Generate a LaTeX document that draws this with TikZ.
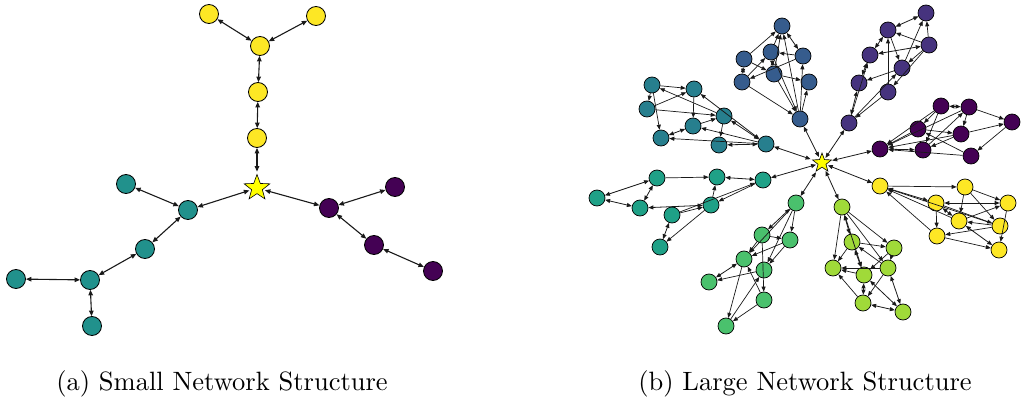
\documentclass[tikz,border=0pt]{standalone}
\usetikzlibrary{arrows.meta,shapes.geometric}
\definecolor{vA}{HTML}{440154}
\definecolor{vB}{HTML}{46337E}
\definecolor{vC}{HTML}{365C8D}
\definecolor{vD}{HTML}{277F8E}
\definecolor{vE}{HTML}{1FA187}
\definecolor{vF}{HTML}{4AC16D}
\definecolor{vG}{HTML}{A0DA39}
\definecolor{vH}{HTML}{FDE725}
\definecolor{vM}{HTML}{21918C}
\definecolor{starY}{HTML}{FFFF00}
\tikzset{
  nd/.style={circle, draw=black, line width=0.8pt, minimum size=19pt, inner sep=0pt},
  ndl/.style={circle, draw=black, line width=0.7pt, minimum size=16pt, inner sep=0pt},
  starnode/.style={star, star points=5, star point ratio=2.4, draw=black, line width=0.6pt, fill=starY, inner sep=0pt},
  bi/.style={{Triangle[length=5.5pt,width=4.5pt]}-{Triangle[length=5.5pt,width=4.5pt]}, line width=1.1pt, draw=black!90},
  bil/.style={{Triangle[length=5pt,width=4pt]}-{Triangle[length=5pt,width=4pt]}, line width=0.8pt, draw=black!90},
  un/.style={-{Triangle[length=5pt,width=4pt]}, line width=0.7pt, draw=black!90},
  captext/.style={inner sep=0pt, anchor=center}
}
\begin{document}
\begin{tikzpicture}[x=1pt,y=-1pt]
\useasboundingbox (0,0) rectangle (1021,404);
% ---------------- small network ----------------
\node[nd, fill=vH] (ya) at (209,14) {};
\node[nd, fill=vH] (yb) at (316,16) {};
\node[nd, fill=vH] (yc) at (260,46) {};
\node[nd, fill=vH] (yd) at (258,92) {};
\node[nd, fill=vH] (ye) at (257,138) {};
\node[starnode, minimum size=27pt] (s0) at (257,188) {};
\node[nd, fill=vM] (ta) at (126,184) {};
\node[nd, fill=vM] (tb) at (188,210) {};
\node[nd, fill=vM] (tc) at (145,249) {};
\node[nd, fill=vM] (td) at (90,280) {};
\node[nd, fill=vM] (te) at (16,279) {};
\node[nd, fill=vM] (tf) at (92,326) {};
\node[nd, fill=vA] (pa) at (329,208) {};
\node[nd, fill=vA] (pb) at (395,187) {};
\node[nd, fill=vA] (pc) at (374,245) {};
\node[nd, fill=vA] (pd) at (433,271) {};
\draw[bi] (ya) -- (yc);
\draw[bi] (yb) -- (yc);
\draw[bi] (yc) -- (yd);
\draw[bi] (yd) -- (ye);
\draw[bi, shorten >=2pt] (ye) -- (s0);
\draw[bi, shorten <=2pt] (s0) -- (tb);
\draw[bi] (tb) -- (ta);
\draw[bi] (tb) -- (tc);
\draw[bi] (tc) -- (td);
\draw[bi] (td) -- (te);
\draw[bi] (td) -- (tf);
\draw[bi, shorten <=2pt] (s0) -- (pa);
\draw[bi] (pa) -- (pb);
\draw[bi] (pa) -- (pc);
\draw[bi] (pc) -- (pd);
% ---------------- large network ----------------
\node[starnode, minimum size=20pt] (s1) at (822,163) {};
% blue
\node[ndl, fill=vC] (b1) at (782,26) {};
\node[ndl, fill=vC] (b2) at (744,59) {};
\node[ndl, fill=vC] (b3) at (771,52) {};
\node[ndl, fill=vC] (b4) at (803,56) {};
\node[ndl, fill=vC] (b5) at (742,82) {};
\node[ndl, fill=vC] (b6) at (774,74) {};
\node[ndl, fill=vC] (b7) at (809,82) {};
\node[ndl, fill=vC] (b8) at (800,119) {};
% teal
\node[ndl, fill=vD] (t1) at (652,85) {};
\node[ndl, fill=vD] (t2) at (694,89) {};
\node[ndl, fill=vD] (t3) at (647,109) {};
\node[ndl, fill=vD] (t4) at (724,116) {};
\node[ndl, fill=vD] (t5) at (693,126) {};
\node[ndl, fill=vD] (t6) at (661,138) {};
\node[ndl, fill=vD] (t7) at (719,145) {};
\node[ndl, fill=vD] (t8) at (766,144) {};
% indigo
\node[ndl, fill=vB] (i1) at (926,13) {};
\node[ndl, fill=vB] (i2) at (888,30) {};
\node[ndl, fill=vB] (i3) at (929,45) {};
\node[ndl, fill=vB] (i4) at (870,55) {};
\node[ndl, fill=vB] (i5) at (902,68) {};
\node[ndl, fill=vB] (i6) at (859,83) {};
\node[ndl, fill=vB] (i7) at (888,92) {};
\node[ndl, fill=vB] (i8) at (849,123) {};
% dark purple
\node[ndl, fill=vA] (p1) at (941,106) {};
\node[ndl, fill=vA] (p2) at (969,107) {};
\node[ndl, fill=vA] (p3) at (1012,122) {};
\node[ndl, fill=vA] (p4) at (918,129) {};
\node[ndl, fill=vA] (p5) at (961,134) {};
\node[ndl, fill=vA] (p6) at (880,149) {};
\node[ndl, fill=vA] (p7) at (923,150) {};
\node[ndl, fill=vA] (p8) at (971,156) {};
% yellow
\node[ndl, fill=vH] (y1) at (880,186) {};
\node[ndl, fill=vH] (y2) at (965,187) {};
\node[ndl, fill=vH] (y3) at (936,203) {};
\node[ndl, fill=vH] (y4) at (1008,203) {};
\node[ndl, fill=vH] (y5) at (959,221) {};
\node[ndl, fill=vH] (y6) at (1000,226) {};
\node[ndl, fill=vH] (y7) at (937,236) {};
\node[ndl, fill=vH] (y8) at (999,250) {};
% light green
\node[ndl, fill=vG] (l1) at (842,207) {};
\node[ndl, fill=vG] (l2) at (852,242) {};
\node[ndl, fill=vG] (l3) at (894,248) {};
\node[ndl, fill=vG] (l4) at (833,268) {};
\node[ndl, fill=vG] (l5) at (864,275) {};
\node[ndl, fill=vG] (l6) at (888,268) {};
\node[ndl, fill=vG] (l7) at (863,303) {};
\node[ndl, fill=vG] (l8) at (903,312) {};
% green
\node[ndl, fill=vF] (g1) at (796,203) {};
\node[ndl, fill=vF] (g2) at (762,235) {};
\node[ndl, fill=vF] (g3) at (790,240) {};
\node[ndl, fill=vF] (g4) at (744,259) {};
\node[ndl, fill=vF] (g5) at (764,270) {};
\node[ndl, fill=vF] (g6) at (709,282) {};
\node[ndl, fill=vF] (g7) at (764,300) {};
\node[ndl, fill=vF] (g8) at (726,326) {};
% teal-green
\node[ndl, fill=vE] (q1) at (597,198) {};
\node[ndl, fill=vE] (q2) at (657,178) {};
\node[ndl, fill=vE] (q3) at (717,177) {};
\node[ndl, fill=vE] (q4) at (763,180) {};
\node[ndl, fill=vE] (q5) at (640,208) {};
\node[ndl, fill=vE] (q6) at (672,215) {};
\node[ndl, fill=vE] (q7) at (711,205) {};
\node[ndl, fill=vE] (q8) at (660,247) {};
% hub links
\foreach \g in {b8,t8,i8,p6,y1,l1,g1,q4} \draw[bil, shorten <=1.5pt] (s1) -- (\g);
% blue edges
\draw[un] (b2) -- (b1);
\draw[bil] (b1) -- (b4);
\draw[un] (b3) -- (b1);
\draw[un] (b6) -- (b1);
\draw[un] (b4) -- (b3);
\draw[un] (b5) -- (b3);
\draw[bil] (b2) -- (b5);
\draw[un] (b4) -- (b5);
\draw[un] (b6) -- (b7);
\draw[un] (b8) -- (b4);
\draw[un] (b5) -- (b8);
\draw[un] (b6) -- (b8);
\draw[un] (b3) -- (b8);
\draw[un] (b8) -- (b7);
\draw[un] (b2) -- (b6);
\draw[bil] (b3) -- (b6);
\draw[un] (b8) -- (b1);
% teal edges
\draw[un] (t1) -- (t2);
\draw[un] (t4) -- (t1);
\draw[un] (t3) -- (t2);
\draw[un] (t1) -- (t3);
\draw[un] (t1) -- (t6);
\draw[un] (t3) -- (t4);
\draw[un] (t2) -- (t5);
\draw[bil] (t2) -- (t8);
\draw[bil] (t5) -- (t6);
\draw[un] (t8) -- (t6);
\draw[bil] (t8) -- (t7);
\draw[un] (t4) -- (t7);
\draw[un] (t8) -- (t5);
\draw[bil] (t4) -- (t8);
\draw[un] (t5) -- (t4);
% indigo edges
\draw[bil] (i2) -- (i1);
\draw[un] (i3) -- (i1);
\draw[un] (i3) -- (i2);
\draw[bil] (i4) -- (i3);
\draw[un] (i2) -- (i5);
\draw[un] (i5) -- (i1);
\draw[bil] (i4) -- (i2);
\draw[bil] (i6) -- (i4);
\draw[un] (i5) -- (i6);
\draw[un] (i3) -- (i5);
\draw[un] (i7) -- (i2);
\draw[un] (i8) -- (i5);
\draw[bil] (i8) -- (i6);
\draw[un] (i7) -- (i8);
\draw[un] (i8) -- (i4);
\draw[un] (i3) -- (i7);
% dark purple edges
\draw[bil] (p2) -- (p1);
\draw[un] (p2) -- (p3);
\draw[un] (p3) -- (p8);
\draw[un] (p2) -- (p5);
\draw[un] (p1) -- (p4);
\draw[un] (p4) -- (p6);
\draw[un] (p1) -- (p6);
\draw[bil] (p6) -- (p7);
\draw[un] (p8) -- (p6);
\draw[un] (p5) -- (p6);
\draw[un] (p2) -- (p6);
\draw[un] (p4) -- (p5);
\draw[un] (p7) -- (p2);
\draw[un] (p8) -- (p4);
\draw[un] (p1) -- (p7);
\draw[un] (p5) -- (p7);
\draw[un] (p5) -- (p3);
% yellow edges
\draw[un] (y1) -- (y2);
\draw[bil] (y1) -- (y3);
\draw[un] (y7) -- (y1);
\draw[un] (y5) -- (y1);
\draw[un] (y6) -- (y1);
\draw[un] (y2) -- (y4);
\draw[un] (y2) -- (y5);
\draw[un] (y2) -- (y6);
\draw[bil] (y3) -- (y4);
\draw[un] (y3) -- (y7);
\draw[bil] (y3) -- (y5);
\draw[un] (y5) -- (y4);
\draw[un] (y6) -- (y5);
\draw[un] (y6) -- (y7);
\draw[un] (y7) -- (y8);
\draw[un] (y4) -- (y8);
\draw[bil] (y5) -- (y8);
\draw[un] (y3) -- (y6);
% light green edges
\draw[un] (l1) -- (l4);
\draw[un] (l1) -- (l3);
\draw[bil] (l1) -- (l2);
\draw[bil] (l1) -- (l5);
\draw[un] (l2) -- (l4);
\draw[un] (l2) -- (l3);
\draw[un] (l3) -- (l5);
\draw[un] (l6) -- (l4);
\draw[un] (l5) -- (l4);
\draw[un] (l6) -- (l2);
\draw[un] (l1) -- (l6);
\draw[un] (l7) -- (l4);
\draw[bil] (l7) -- (l5);
\draw[bil] (l7) -- (l8);
\draw[bil] (l6) -- (l8);
\draw[bil] (l5) -- (l8);
\draw[un] (l6) -- (l7);
\draw[un] (l3) -- (l6);
\draw[bil] (l2) -- (l5);
% green edges
\draw[bil] (g1) -- (g2);
\draw[un] (g1) -- (g3);
\draw[un] (g1) -- (g5);
\draw[un] (g1) -- (g4);
\draw[un] (g2) -- (g3);
\draw[un] (g2) -- (g4);
\draw[un] (g2) -- (g7);
\draw[un] (g3) -- (g5);
\draw[bil] (g6) -- (g4);
\draw[un] (g5) -- (g6);
\draw[un] (g4) -- (g8);
\draw[un] (g7) -- (g8);
\draw[un] (g8) -- (g5);
\draw[un] (g7) -- (g4);
\draw[un] (g3) -- (g4);
% teal-green edges
\draw[bil] (q2) -- (q1);
\draw[un] (q2) -- (q3);
\draw[bil] (q4) -- (q3);
\draw[bil] (q2) -- (q5);
\draw[bil] (q5) -- (q1);
\draw[bil] (q7) -- (q5);
\draw[un] (q6) -- (q7);
\draw[un] (q7) -- (q3);
\draw[un] (q4) -- (q7);
\draw[un] (q6) -- (q4);
\draw[bil] (q6) -- (q8);
\draw[un] (q7) -- (q8);
% captions
\node[captext] (capa) at (222,384) {\scalebox{2.65}{(a) Small Network Structure}};
\node[captext] (capb) at (805,384) {\scalebox{2.65}{(b) Large Network Structure}};
\end{tikzpicture}
\end{document}
